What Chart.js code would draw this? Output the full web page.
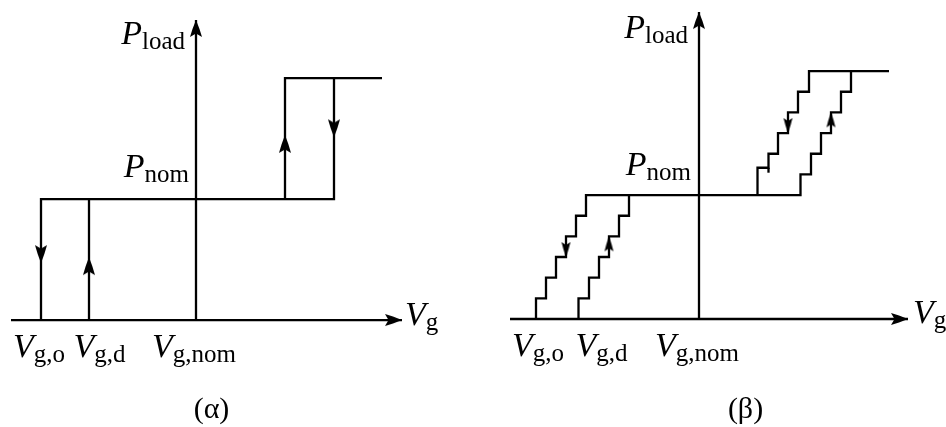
<!DOCTYPE html>
<html>
<head>
<meta charset="utf-8">
<script src="https://cdn.jsdelivr.net/npm/chart.js@4.4.0/dist/chart.umd.min.js"></script>
<style>
  html, body { margin: 0; padding: 0; background: #fff; }
  .panel { position: absolute; top: 0; }
  #chartA { left: 0; }
  #chartB { left: 473px; }
</style>
</head>
<body>
<canvas id="chartA" class="panel" width="473" height="427"></canvas>
<canvas id="chartB" class="panel" width="473" height="427"></canvas>
<script>
// Vg is measured from Vg,nom, power in units of Pnom

// (α) two-level switching
const alphaSwitchV = [-3.1, -2.14, 1.78, 2.76];   // Vg,o, Vg,d, switch-up, switch-down
const alphaLevels = [0, 1, 2];                      // off, Pnom, top level
const alphaTopEndV = 3.72;
const alphaAxisV = [-3.7, 4.12];
const alphaAxisP = 2.48;
const alphaArrowV = [-3.1, -2.14, 1.78, 2.76];
const alphaArrowP = [0.47, 0.52, 1.53, 1.51];
const alphaArrowDir = [180, 0, 0, 180];

// (β) stepped switching, riser positions of each staircase
const betaDownLowV = [-3.26, -3.06, -2.86, -2.66, -2.46, -2.26];
const betaUpLowV = [-2.41, -2.2, -2.0, -1.8, -1.6, -1.4];
const betaDownHighV = [1.17, 1.39, 1.58, 1.78, 1.98, 2.2];
const betaUpHighV = [2.03, 2.24, 2.44, 2.64, 2.84, 3.04];
const betaLowSteps = [0, 0.167, 0.333, 0.5, 0.667, 0.833, 1];
const betaHighSteps = [1, 1.167, 1.333, 1.5, 1.667, 1.833, 2];
const betaDownHighSteps = [1, 1.22, 1.333, 1.5, 1.667, 1.833, 2];
const betaTopEndV = 3.8;
const betaAxisV = [-3.78, 4.18];
const betaAxisP = 2.476;
const betaArrowV = [-2.66, -1.8, 1.78, 2.64];
const betaArrowP = [0.5, 0.667, 1.5, 1.667];
const betaArrowDir = [180, 0, 180, 0];

// tick labels: [main symbol, subscript]
const tickLabels = [['V', 'g,o'], ['V', 'g,d'], ['V', 'g,nom']];
const axisLabelX = ['V', 'g'];
const axisLabelY = ['P', 'load'];
const levelLabel = ['P', 'nom'];
const captions = ['(α)', '(β)'];

const INK = '#000';
const FONT = '"Liberation Serif", "DejaVu Serif", serif';

// arrowhead drawn pointing up, tip in the middle of the canvas so it
// lands exactly on the data point
function makeArrow(len, width) {
  const c = document.createElement('canvas');
  c.width = Math.ceil(width) + 2;
  c.height = Math.ceil(len) * 2 + 2;
  const g = c.getContext('2d');
  const cx = c.width / 2, cy = c.height / 2;
  g.fillStyle = INK;
  g.beginPath();
  g.moveTo(cx, cy);
  g.quadraticCurveTo(cx + width * 0.3, cy + len * 0.5, cx + width / 2, cy + len);
  g.lineTo(cx, cy + len * 0.8);
  g.lineTo(cx - width / 2, cy + len);
  g.quadraticCurveTo(cx - width * 0.3, cy + len * 0.5, cx, cy);
  g.fill();
  return c;
}

function staircase(xs, levels) {
  const pts = [];
  xs.forEach((x, i) => {
    pts.push({ x, y: levels[i] });
    pts.push({ x, y: levels[i + 1] });
  });
  return pts;
}

function lineSet(data) {
  return {
    data,
    showLine: true,
    borderColor: INK,
    borderWidth: 2.3,
    pointRadius: 0,
    borderJoinStyle: 'miter',
    tension: 0
  };
}

function arrowSet(xs, ps, dirs, style) {
  return {
    data: xs.map((x, i) => ({ x, y: ps[i] })),
    showLine: false,
    pointStyle: style,
    rotation: dirs,
    pointRadius: 6,
    borderWidth: 0
  };
}

function drawMath(ctx, parts, x, y, align, opts) {
  const [main, sub] = parts;
  ctx.font = 'italic 34px ' + FONT;
  const wMain = ctx.measureText(main).width;
  ctx.font = '25px ' + FONT;
  const wSub = sub ? ctx.measureText(sub).width : 0;
  const total = wMain + wSub;
  let left = x;
  if (align === 'center') left = x - total / 2;
  if (align === 'right') left = x - total;
  ctx.fillStyle = INK;
  ctx.textBaseline = 'alphabetic';
  ctx.textAlign = 'left';
  ctx.font = 'italic 34px ' + FONT;
  ctx.fillText(main, left, y);
  if (sub) {
    ctx.font = '25px ' + FONT;
    ctx.fillText(sub, left + wMain, y + opts.subDrop);
  }
}

const mathLabels = {
  id: 'mathLabels',
  afterDraw(chart, args, opts) {
    const ctx = chart.ctx;
    const sx = chart.scales.x, sy = chart.scales.y;
    ctx.save();
    opts.items.forEach(it => {
      const px = sx.getPixelForValue(it.x) + it.dx;
      const py = sy.getPixelForValue(it.y) + it.dy;
      drawMath(ctx, it.text, px, py, it.align, opts);
    });
    ctx.font = '30px ' + FONT;
    ctx.textAlign = 'center';
    ctx.fillStyle = INK;
    ctx.fillText(opts.caption, opts.captionX, opts.captionY);
    ctx.restore();
  }
};

function makeChart(id, datasets, range, labels) {
  return new Chart(document.getElementById(id), {
    type: 'scatter',
    data: { datasets },
    options: {
      responsive: false,
      animation: false,
      layout: { padding: 0, autoPadding: false },
      scales: {
        x: { type: 'linear', display: false, min: range.x[0], max: range.x[1] },
        y: { type: 'linear', display: false, min: range.y[0], max: range.y[1] }
      },
      plugins: {
        legend: { display: false },
        tooltip: { enabled: false },
        mathLabels: labels
      }
    },
    plugins: [mathLabels]
  });
}

const axisHead = makeArrow(17, 12);
const midHeadA = makeArrow(18, 12);
const midHeadB = makeArrow(15, 9);

// ----- (α) -----
const [vo, vd, vUp, vDown] = alphaSwitchV;
const [p0, p1, p2] = alphaLevels;
makeChart('chartA', [
  lineSet([{ x: alphaAxisV[0], y: 0 }, { x: alphaAxisV[1], y: 0 }]),
  lineSet([{ x: 0, y: 0 }, { x: 0, y: alphaAxisP }]),
  lineSet([{ x: vo, y: p0 }, { x: vo, y: p1 }, { x: vDown, y: p1 }, { x: vDown, y: p2 }]),
  lineSet([{ x: vd, y: p0 }, { x: vd, y: p1 }]),
  lineSet([{ x: vUp, y: p1 }, { x: vUp, y: p2 }, { x: alphaTopEndV, y: p2 }]),
  arrowSet(alphaArrowV, alphaArrowP, alphaArrowDir, midHeadA),
  arrowSet([alphaAxisV[1], 0], [0, alphaAxisP], [90, 0], axisHead)
], { x: [-3.92, 5.54], y: [-0.884, 2.645] }, {
  subDrop: 5,
  caption: captions[0], captionX: 211.5, captionY: 418,
  items: [
    { text: tickLabels[0], x: vo, y: 0, dx: -2, dy: 37, align: 'center' },
    { text: tickLabels[1], x: vd, y: 0, dx: 10.5, dy: 37, align: 'center' },
    { text: tickLabels[2], x: 0, y: 0, dx: -2, dy: 37, align: 'center' },
    { text: axisLabelX, x: alphaAxisV[1], y: 0, dx: 3, dy: 5, align: 'left' },
    { text: axisLabelY, x: 0, y: alphaAxisP, dx: -11, dy: 24, align: 'right' },
    { text: levelLabel, x: 0, y: p1, dx: -7, dy: -22, align: 'right' }
  ]
});

// ----- (β) -----
const fallingPath = staircase(betaDownLowV, betaLowSteps)
  .concat(staircase(betaUpHighV, betaHighSteps));
const risingLow = staircase(betaUpLowV, betaLowSteps);
const fallingHigh = staircase(betaDownHighV, betaDownHighSteps)
  .concat([{ x: betaTopEndV, y: 2 }]);

makeChart('chartB', [
  lineSet([{ x: betaAxisV[0], y: 0 }, { x: betaAxisV[1], y: 0 }]),
  lineSet([{ x: 0, y: 0 }, { x: 0, y: betaAxisP }]),
  lineSet(fallingPath),
  lineSet(risingLow),
  lineSet(fallingHigh),
  lineSet([{ x: betaDownHighV[1], y: 1.18 }, { x: betaDownHighV[1], y: 1.22 }]),
  arrowSet(betaArrowV, betaArrowP, betaArrowDir, midHeadB),
  arrowSet([betaAxisV[1], 0], [0, betaAxisP], [90, 0], axisHead)
], { x: [-4.52, 4.94], y: [-0.871, 2.573] }, {
  subDrop: 5,
  caption: captions[1], captionX: 272.5, captionY: 418,
  items: [
    { text: tickLabels[0], x: betaDownLowV[0], y: 0, dx: 2, dy: 37, align: 'center' },
    { text: tickLabels[1], x: betaUpLowV[0], y: 0, dx: 23, dy: 37, align: 'center' },
    { text: tickLabels[2], x: 0, y: 0, dx: -2, dy: 37, align: 'center' },
    { text: axisLabelX, x: betaAxisV[1], y: 0, dx: 5, dy: 4, align: 'left' },
    { text: axisLabelY, x: 0, y: betaAxisP, dx: -11, dy: 26, align: 'right' },
    { text: levelLabel, x: 0, y: 1, dx: -8, dy: -20, align: 'right' }
  ]
});
</script>
</body>
</html>
